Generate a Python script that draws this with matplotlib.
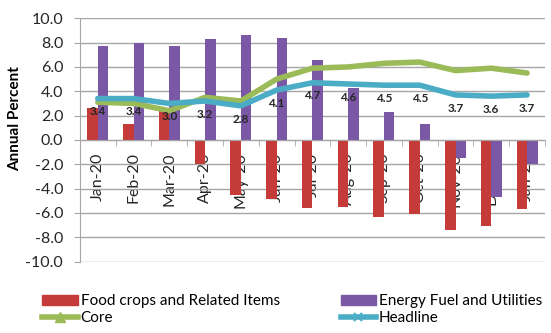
import numpy as np
import matplotlib
matplotlib.use('Agg')
import matplotlib.pyplot as plt
from matplotlib.lines import Line2D
from matplotlib.patches import Patch

months = ['Jan-20', 'Feb-20', 'Mar-20', 'Apr-20', 'May-20', 'Jun-20', 'Jul-20',
          'Aug-20', 'Sep-20', 'Oct-20', 'Nov-20', 'Dec-20', 'Jan-21']
food = [2.6, 1.3, 2.6, -2.0, -4.5, -4.9, -5.6, -5.5, -6.3, -6.1, -7.4, -7.1, -5.7]
energy = [7.7, 8.0, 7.7, 8.3, 8.6, 8.4, 6.6, 4.3, 2.3, 1.3, -1.5, -4.7, -2.0]
core = [3.1, 3.0, 2.4, 3.5, 3.2, 5.0, 5.9, 6.0, 6.3, 6.4, 5.7, 5.9, 5.5]
headline = [3.4, 3.4, 3.0, 3.2, 2.8, 4.1, 4.7, 4.6, 4.5, 4.5, 3.7, 3.6, 3.7]

plt.rcParams['font.family'] = ['Lato', 'DejaVu Sans']

red = '#C53B39'
purple = '#7B58A6'
green = '#9BBB59'
cyan = '#4BACC6'
grey = '#A6A6A6'

fig = plt.figure(figsize=(5.51, 3.33), dpi=100)
ax = fig.add_axes([0.145, 0.2147, 0.844, 0.7303])

x = np.arange(len(months))
w = 0.293
ax.bar(x - w / 2, food, w, color=red, zorder=2)
ax.bar(x + w / 2, energy, w, color=purple, zorder=2)
ax.plot(x, core, color=green, lw=4, solid_capstyle='round', zorder=3)
ax.plot(x, headline, color=cyan, lw=4, solid_capstyle='round', zorder=4)

# headline values sit just under the line
for i, v in enumerate(headline):
    ax.annotate('%.1f' % v, (x[i], v), xytext=(0, -9.5), textcoords='offset points',
                ha='center', va='center', fontsize=8.5, fontweight='bold',
                color='#262626', zorder=5)

ax.set_xlim(-0.5, len(months) - 0.5)
ax.set_ylim(-10, 10)
ax.set_yticks(np.arange(-10, 10.1, 2))
ax.set_yticklabels(['%.1f' % t for t in np.arange(-10, 10.1, 2)])
ax.grid(axis='y', color=grey, lw=1, zorder=0)
ax.set_axisbelow(True)

ax.spines['top'].set_visible(False)
ax.spines['right'].set_visible(False)
ax.spines['left'].set_color(grey)
ax.spines['bottom'].set_color(grey)
ax.spines['bottom'].set_position(('data', 0))

ax.set_xticks(x)
ax.set_xticklabels(months, rotation=90, fontsize=11.5, color='#262626')
ax.set_xticks(np.arange(-0.5, len(months), 1), minor=True)
ax.tick_params(axis='x', which='major', length=0, pad=9)
ax.tick_params(axis='x', which='minor', length=4, color=grey)
ax.tick_params(axis='y', length=4, color=grey, labelsize=11.5, labelcolor='#262626', pad=8)

ax.set_ylabel('Annual Percent', fontsize=11, fontweight='bold')
ax.yaxis.set_label_coords(-0.125, 0.588)

handles = [Patch(color=red), Line2D([], [], color=green, lw=4, marker='^', ms=7),
           Patch(color=purple), Line2D([], [], color=cyan, lw=4, marker='x', ms=6, mew=1.5)]
labels = ['Food crops and Related Items', 'Core', 'Energy Fuel and Utilities', 'Headline']
fig.legend(handles, labels, ncol=2, loc='upper left', bbox_to_anchor=(0.066, 0.135),
           frameon=False, fontsize=11, handlelength=2.3, handleheight=0.6,
           columnspacing=4.0, handletextpad=0.2, labelspacing=0.2, borderaxespad=0)

fig.savefig('out.png', dpi=100)
